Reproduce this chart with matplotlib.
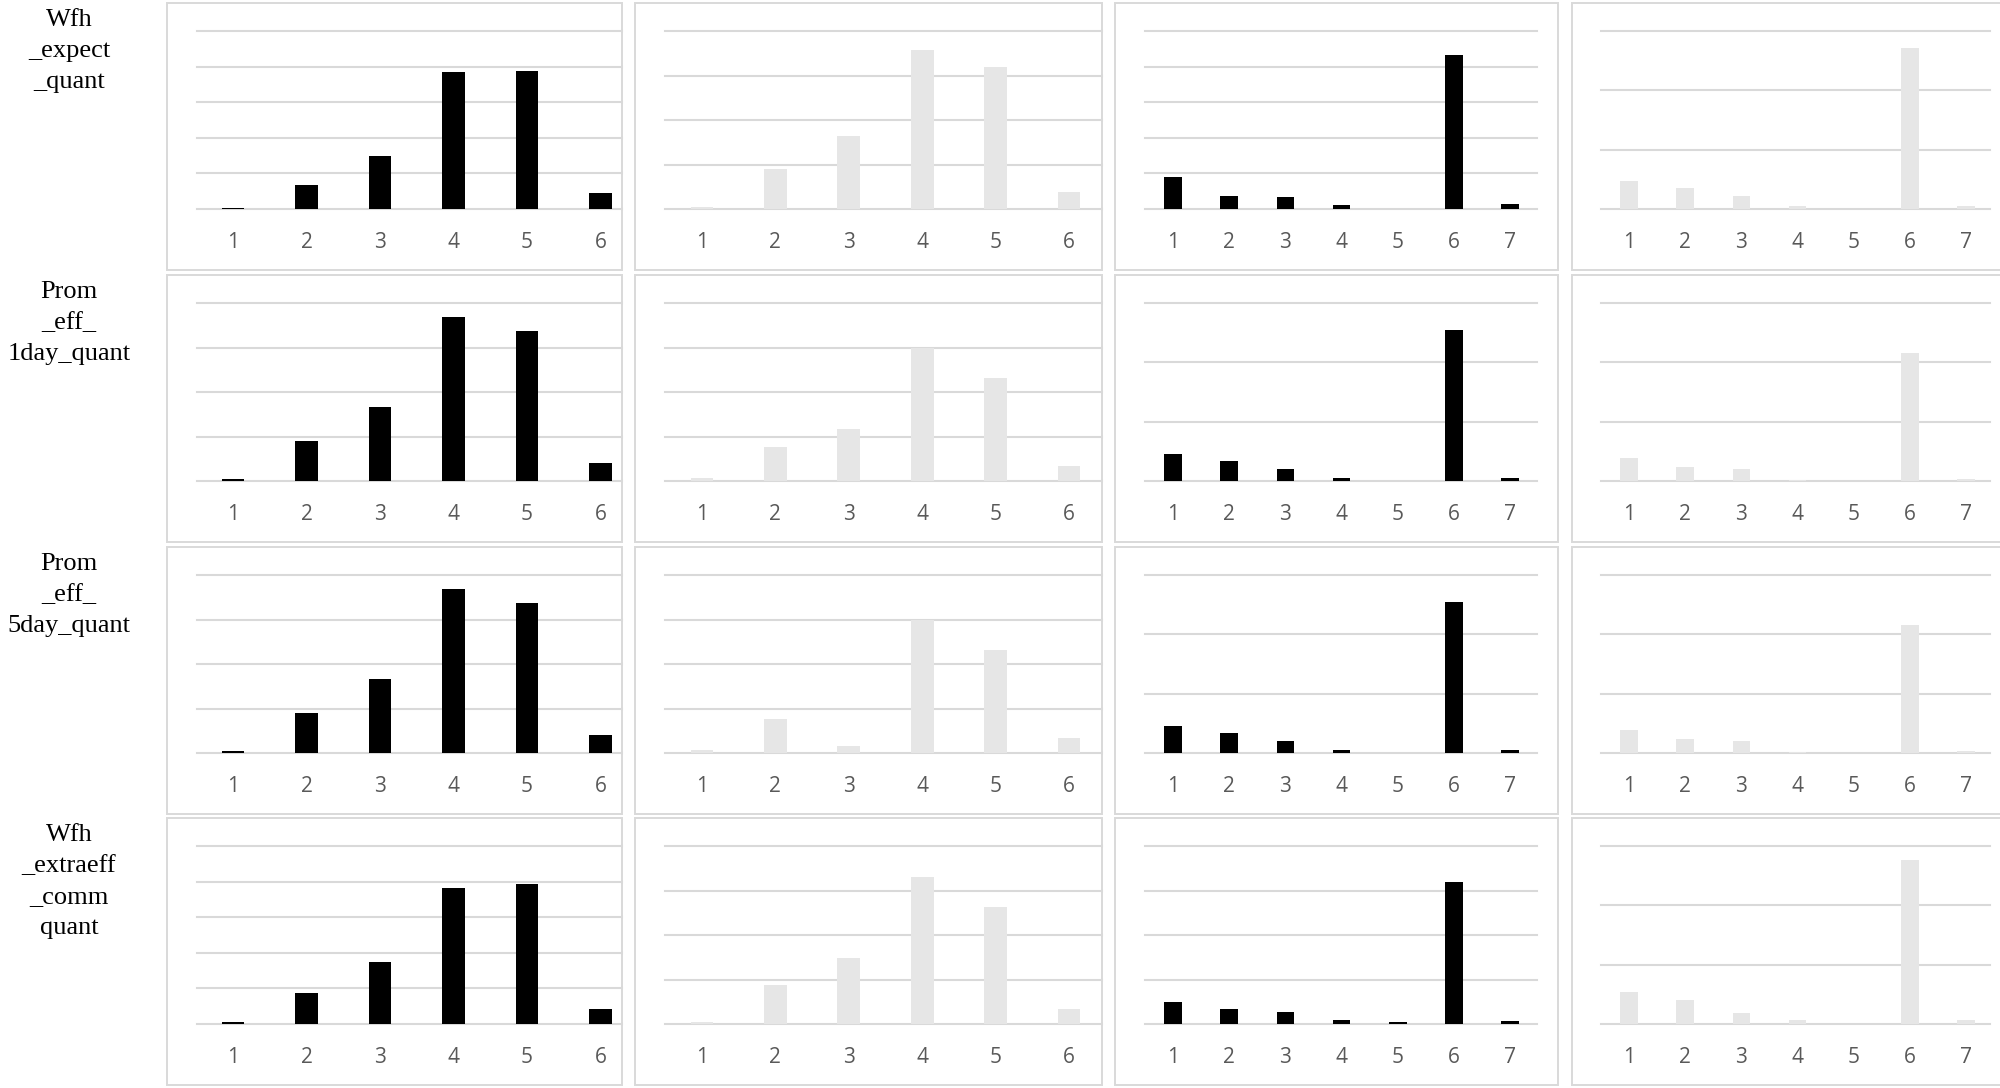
import matplotlib
matplotlib.use("Agg")
import matplotlib.pyplot as plt
from matplotlib.patches import Rectangle

# row labels (left side)
row_labels = ["Wfh\n_expect\n_quant",
              "Prom\n_eff_\n1day_quant",
              "Prom\n_eff_\n5day_quant",
              "Wfh\n_extraeff\n_comm\nquant"]

cats6 = [1, 2, 3, 4, 5, 6]
cats7 = [1, 2, 3, 4, 5, 6, 7]

# bar heights, in units of one gridline step
wfh_expect_a = [0.04, 0.68, 1.50, 3.86, 3.89, 0.45]
wfh_expect_b = [0.04, 0.90, 1.63, 3.57, 3.20, 0.38]
wfh_expect_c = [0.89, 0.37, 0.35, 0.11, 0.0, 4.32, 0.15]
wfh_expect_d = [0.48, 0.36, 0.22, 0.045, 0.0, 2.72, 0.056]

prom1_a = [0.045, 0.89, 1.67, 3.68, 3.36, 0.40]
prom1_b = [0.06, 0.76, 1.16, 2.99, 2.31, 0.33]
prom1_c = [0.45, 0.34, 0.20, 0.05, 0.0, 2.55, 0.05]
prom1_d = [0.38, 0.23, 0.21, 0.02, 0.0, 2.15, 0.033]

prom5_a = [0.045, 0.89, 1.67, 3.68, 3.36, 0.40]
prom5_b = [0.06, 0.76, 0.16, 2.99, 2.31, 0.33]
prom5_c = [0.45, 0.34, 0.20, 0.05, 0.0, 2.55, 0.05]
prom5_d = [0.38, 0.23, 0.21, 0.02, 0.0, 2.15, 0.033]

extraeff_a = [0.056, 0.87, 1.74, 3.82, 3.92, 0.43]
extraeff_b = [0.05, 0.88, 1.48, 3.31, 2.62, 0.33]
extraeff_c = [0.49, 0.34, 0.26, 0.09, 0.05, 3.20, 0.06]
extraeff_d = [0.54, 0.41, 0.19, 0.06, 0.0, 2.77, 0.06]

# number of gridline steps on each panel's y axis
grid_steps = [[5, 4, 5, 3],
              [4, 4, 3, 3],
              [4, 4, 3, 3],
              [5, 4, 4, 3]]

data = [[wfh_expect_a, wfh_expect_b, wfh_expect_c, wfh_expect_d],
        [prom1_a, prom1_b, prom1_c, prom1_d],
        [prom5_a, prom5_b, prom5_c, prom5_d],
        [extraeff_a, extraeff_b, extraeff_c, extraeff_d]]

W, H = 2000, 1088
fig = plt.figure(figsize=(10, 5.44), dpi=200)
fig.patch.set_facecolor("white")

def fx(x):
    return x / W

def fy(y):
    return 1 - y / H

# panel boxes: (left, right) per column, tops per row
box_x = [(167, 622), (635, 1102), (1115, 1558), (1572, 2010)]
box_top = [3, 275, 547, 818]
box_h = 267
# plot area per column: left edge px, right edge px, first category px, spacing px
area_x = [(197, 622, 233, 73.5), (665, 1102, 702, 73.4),
          (1145, 1537, 1173, 56.2), (1601, 1990, 1629, 56.2)]
bar_colors = ["black", "#e6e6e6", "black", "#e6e6e6"]
grid_col = "#d9d9d9"

for r in range(4):
    top = box_top[r]
    fig.text(fx(69), fy(top + 6), row_labels[r], ha="center", va="top",
             family="Liberation Serif", fontsize=9.5, linespacing=1.52)
    for c in range(4):
        x0, x1 = box_x[c]
        fig.add_artist(Rectangle((fx(x0), fy(top + box_h)), fx(x1 - x0), box_h / H,
                                 transform=fig.transFigure, facecolor="white",
                                 edgecolor=grid_col, lw=0.7, zorder=0))
        left, right, first, step = area_x[c]
        y_top = top + 28
        y_base = top + 206
        ax = fig.add_axes([fx(left), fy(y_base), fx(right - left), (y_base - y_top) / H])
        ax.patch.set_alpha(0)
        vals = data[r][c]
        cats = cats6 if len(vals) == 6 else cats7
        ax.bar(cats, vals, width=0.31, color=bar_colors[c], zorder=3)
        n = grid_steps[r][c]
        for k in range(n + 1):
            ax.axhline(k, color=grid_col, lw=0.75, zorder=1, clip_on=False)
        ax.set_ylim(0, n)
        ax.set_xlim(1 - (first - left) / step, 1 + (right - first) / step)
        for s in ax.spines.values():
            s.set_visible(False)
        ax.set_yticks([])
        ax.set_xticks(cats)
        ax.set_xticklabels([str(v) for v in cats], family="Open Sans", fontsize=7.5,
                           color="#595959")
        ax.tick_params(axis="x", length=0, pad=8.3)

fig.savefig("out.png", dpi=200, facecolor="white")
